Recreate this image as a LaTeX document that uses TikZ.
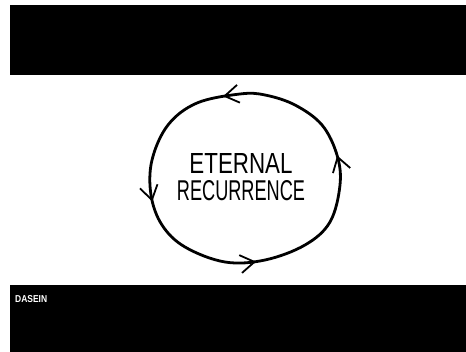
\documentclass[tikz,border=0pt]{standalone}
\usepackage{fontspec}
\setsansfont{Liberation Sans}
\usetikzlibrary{arrows.meta, positioning, decorations.markings}
\tikzset{
    barbox/.style={fill=black, draw=none},
    handtext/.style={inner sep=0pt, font=\sffamily},
    chevron/.tip={Straight Barb[length=14pt, width=18pt, line width=1.8pt]},
    cyclepath/.style={line width=2.8pt, line join=round, postaction={decorate},
        decoration={markings,
            mark=at position 0.205 with {\arrow{chevron}},
            mark=at position 0.435 with {\arrow{chevron}},
            mark=at position 0.705 with {\arrow{chevron}},
            mark=at position 0.953 with {\arrow{chevron}}}}
}
\newcommand{\fitword}[3]{\resizebox{#1}{#2}{#3}}

\begin{document}
\begin{tikzpicture}[x=1pt, y=-1pt]
    \useasboundingbox (0,0) rectangle (466,352);
    % black bars
    \fill[barbox] (10,5) rectangle (466,75);
    \fill[barbox] (10,285) rectangle (466,352);
    \node (dasein) [handtext, font=\sffamily\bfseries, text=white, anchor=north west] at (15,295) {\fitword{32pt}{7pt}{DASEIN}};

    % caption in the middle
    \node (recurrence) [handtext] at (241,191) {\fitword{128pt}{20pt}{RECURRENCE}};
    \node (eternal) [handtext, above=7pt of recurrence] {\fitword{103pt}{20pt}{ETERNAL}};

    % the loop
    \draw [cyclepath] plot[smooth cycle, tension=0.6] coordinates {
        (240,94) (197,103) (168,125) (152,160) (151,195) (162,225) (185,247)
        (225,262) (265,260) (305,245) (330,222) (340,185) (337,155) (322,125)
        (295,105) (265,95)};
\end{tikzpicture}
\end{document}
